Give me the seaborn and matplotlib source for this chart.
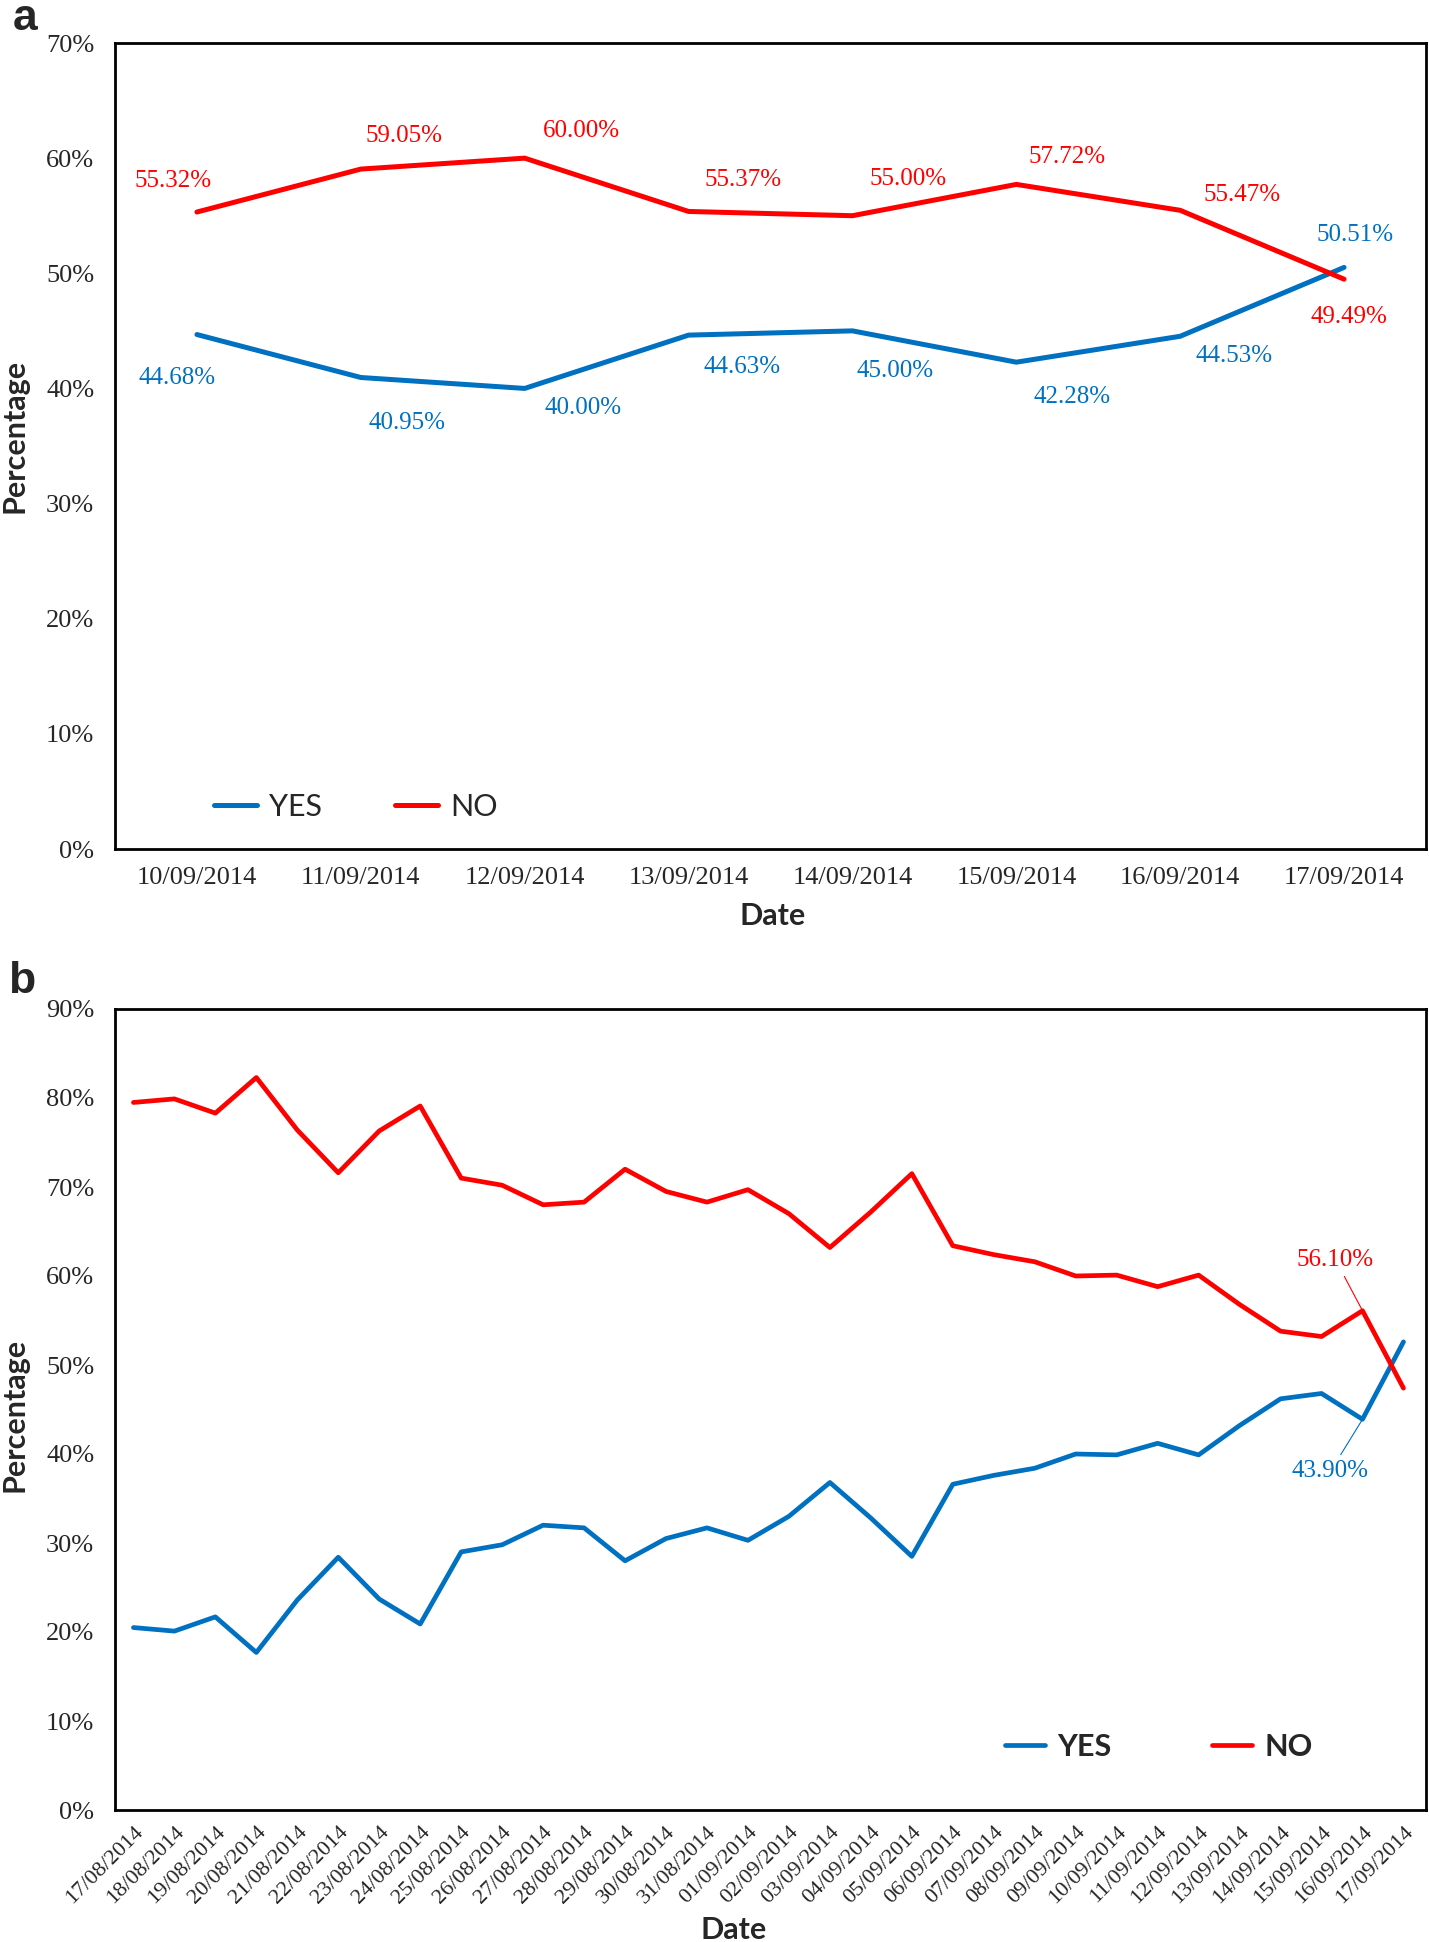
import numpy as np
import pandas as pd
import matplotlib
matplotlib.use("Agg")
import matplotlib.pyplot as plt
import seaborn as sns
from matplotlib.ticker import FuncFormatter, MultipleLocator

# ---------------- data ----------------
dates_a = ["10/09/2014", "11/09/2014", "12/09/2014", "13/09/2014",
           "14/09/2014", "15/09/2014", "16/09/2014", "17/09/2014"]
yes_a = [44.68, 40.95, 40.00, 44.63, 45.00, 42.28, 44.53, 50.51]
no_a = [55.32, 59.05, 60.00, 55.37, 55.00, 57.72, 55.47, 49.49]

dates_b = ["17/08/2014", "18/08/2014", "19/08/2014", "20/08/2014", "21/08/2014",
           "22/08/2014", "23/08/2014", "24/08/2014", "25/08/2014", "26/08/2014",
           "27/08/2014", "28/08/2014", "29/08/2014", "30/08/2014", "31/08/2014",
           "01/09/2014", "02/09/2014", "03/09/2014", "04/09/2014", "05/09/2014",
           "06/09/2014", "07/09/2014", "08/09/2014", "09/09/2014", "10/09/2014",
           "11/09/2014", "12/09/2014", "13/09/2014", "14/09/2014", "15/09/2014",
           "16/09/2014", "17/09/2014"]
yes_b = [20.5, 20.1, 21.7, 17.7, 23.6, 28.4, 23.7, 20.9, 29.0, 29.8, 32.0,
         31.7, 28.0, 30.5, 31.7, 30.3, 33.0, 36.8, 32.8, 28.5, 36.6, 37.6,
         38.4, 40.0, 39.9, 41.2, 39.9, 43.2, 46.2, 46.8, 43.9, 52.6]
no_b = [79.5, 79.9, 78.3, 82.3, 76.4, 71.6, 76.3, 79.1, 71.0, 70.2, 68.0,
        68.3, 72.0, 69.5, 68.3, 69.7, 67.0, 63.2, 67.2, 71.5, 63.4, 62.4,
        61.6, 60.0, 60.1, 58.8, 60.1, 56.8, 53.8, 53.2, 56.1, 47.4]

series_names = ["YES", "NO"]
colors = {"YES": "#0070C0", "NO": "#FF0000"}

# label offsets (pixels) for panel a data labels
no_a_offsets = [(-24, 31), (43, 33), (57, 27), (54, 31), (56, 37), (51, 27), (62, 15), (5, -38)]
yes_a_offsets = [(-20, -43), (46, -46), (58, -20), (53, -32), (43, -40), (56, -35), (54, -20), (11, 32)]

# ---------------- style ----------------
sns.set_style("white")
SERIF = ["Liberation Serif", "DejaVu Serif"]
SANS = ["Lato", "DejaVu Sans"]
plt.rcParams["font.family"] = SERIF


def long_df(dates, yes, no):
    pos = list(range(len(dates)))
    return pd.DataFrame({
        "pos": pos + pos,
        "value": list(yes) + list(no),
        "vote": ["YES"] * len(dates) + ["NO"] * len(dates),
    })


def style_axes(ax):
    for s in ax.spines.values():
        s.set_visible(True)
        s.set_color("black")
        s.set_linewidth(2.0)
    ax.tick_params(length=0)
    ax.yaxis.set_major_formatter(FuncFormatter(lambda v, p: f"{v:.0f}%"))
    ax.yaxis.set_major_locator(MultipleLocator(10))
    for lab in ax.get_yticklabels():
        lab.set_fontfamily(SERIF)


fig = plt.figure(figsize=(14.29, 19.42), dpi=100)
W, H = 1429, 1942

# ---------------- panel a ----------------
ax1 = fig.add_axes([115 / W, 1 - 849 / H, (1426 - 115) / W, (849 - 43) / H])
df_a = long_df(dates_a, yes_a, no_a)
sns.lineplot(data=df_a, x="pos", y="value", hue="vote", hue_order=series_names,
             palette=colors, linewidth=3.6, legend=False, ax=ax1, sort=False,
             solid_joinstyle="round", solid_capstyle="round")
ax1.set_xlim(-0.5, len(dates_a) - 0.5)
ax1.set_ylim(0, 70)
ax1.set_xticks(range(len(dates_a)))
ax1.set_xticklabels(dates_a, fontsize=19, family=SERIF)
style_axes(ax1)
ax1.tick_params(axis="y", labelsize=19, pad=15)
ax1.tick_params(axis="x", pad=13)

for i, v in enumerate(no_a):
    ax1.annotate(f"{v:.2f}%", (i, v), xytext=no_a_offsets[i], textcoords="offset pixels",
                 ha="center", va="center", color=colors["NO"], fontsize=18, family=SERIF)
for i, v in enumerate(yes_a):
    ax1.annotate(f"{v:.2f}%", (i, v), xytext=yes_a_offsets[i], textcoords="offset pixels",
                 ha="center", va="center", color=colors["YES"], fontsize=18, family=SERIF)

ax1.set_xlabel("Date", fontsize=22, fontweight="bold", family=SANS)
ax1.set_ylabel("Percentage", fontsize=22, fontweight="bold", family=SANS)
ax1.xaxis.set_label_coords(0.502, -0.066)
ax1.yaxis.set_label_coords(-0.066, 0.512)

h1 = ax1.lines[:2]
ax1.legend(h1, series_names, loc="center left", bbox_to_anchor=(0.0755, 0.052),
           ncol=2, frameon=False, borderpad=0, borderaxespad=0,
           handlelength=1.4, handletextpad=0.4, columnspacing=2.4,
           prop={"family": SANS, "size": 22})

# ---------------- panel b ----------------
ax2 = fig.add_axes([115 / W, 1 - 1810 / H, (1426 - 115) / W, (1810 - 1009) / H])
df_b = long_df(dates_b, yes_b, no_b)
sns.lineplot(data=df_b, x="pos", y="value", hue="vote", hue_order=series_names,
             palette=colors, linewidth=3.4, legend=False, ax=ax2, sort=False,
             solid_joinstyle="round", solid_capstyle="round")
ax2.set_xlim(-0.45, len(dates_b) - 0.45)
ax2.set_ylim(0, 90)
ax2.set_xticks(range(len(dates_b)))
ax2.set_xticklabels(dates_b, fontsize=16, family=SERIF, rotation=45,
                    ha="right", rotation_mode="anchor")
style_axes(ax2)
ax2.tick_params(axis="y", labelsize=19, pad=15)
ax2.tick_params(axis="x", pad=9)

i_no = 30
ax2.annotate(f"{no_b[i_no]:.2f}%", (i_no, no_b[i_no]), xytext=(-27, 51),
             textcoords="offset pixels", ha="center", va="center",
             color=colors["NO"], fontsize=18, family=SERIF,
             arrowprops=dict(arrowstyle="-", color=colors["NO"], lw=0.8,
                             shrinkA=2, shrinkB=0))
i_yes = 30
ax2.annotate(f"{yes_b[i_yes]:.2f}%", (i_yes, yes_b[i_yes]), xytext=(-32, -52),
             textcoords="offset pixels", ha="center", va="center",
             color=colors["YES"], fontsize=18, family=SERIF,
             arrowprops=dict(arrowstyle="-", color=colors["YES"], lw=0.8,
                             shrinkA=2, shrinkB=0))

ax2.set_xlabel("Date", fontsize=22, fontweight="bold", family=SANS)
ax2.set_ylabel("Percentage", fontsize=22, fontweight="bold", family=SANS)
ax2.xaxis.set_label_coords(0.472, -0.132)
ax2.yaxis.set_label_coords(-0.066, 0.493)

h2 = ax2.lines[:2]
ax2.legend(h2, series_names, loc="center left", bbox_to_anchor=(0.679, 0.079),
           ncol=2, frameon=False, borderpad=0, borderaxespad=0,
           handlelength=1.3, handletextpad=0.4, columnspacing=3.3,
           prop={"family": SANS, "size": 22, "weight": "bold"})

# panel letters
fig.text(25 / W, 1 - 19 / H, "a", fontsize=32, fontweight="bold", family=["Liberation Sans", "DejaVu Sans"],
         ha="center", va="center")
fig.text(22 / W, 1 - 981 / H, "b", fontsize=32, fontweight="bold", family=["Liberation Sans", "DejaVu Sans"],
         ha="center", va="center")

fig.savefig("out.png", dpi=100, facecolor="white")
